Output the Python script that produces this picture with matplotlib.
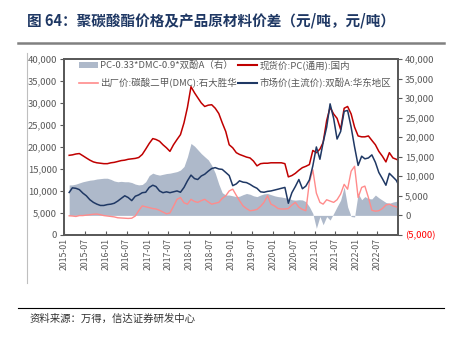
import matplotlib
matplotlib.use('Agg')
import matplotlib.pyplot as plt
import matplotlib.dates as mdates
from matplotlib.lines import Line2D
from matplotlib.patches import Patch
from matplotlib.ticker import FuncFormatter, MultipleLocator
import pandas as pd

plt.rcParams['font.family'] = ['Noto Sans CJK SC', 'DejaVu Sans']

dates = pd.date_range('2015-01-15', periods=96, freq='MS') + pd.Timedelta(days=14)

# 现货价:PC(通用):国内 (左轴)
pc = [18100, 18200, 18400, 18500, 18000, 17500, 17000, 16600, 16400, 16300, 16200, 16200,
      16400, 16500, 16700, 16900, 17000, 17200, 17300, 17400, 17600, 18300, 19500, 20800,
      21900, 21700, 21300, 20500, 19800, 19000, 20500, 21700, 22800, 25500, 29000, 33700,
      32300, 31200, 30000, 29200, 29500, 29600, 28800, 27600, 25500, 23500, 20500, 19800,
      18700, 18300, 18000, 17700, 17500, 16800, 15700, 16200, 16300, 16300, 16400, 16400,
      16400, 16400, 16200, 13200, 13500, 14000, 14700, 15300, 15600, 16000, 19200, 18700,
      19500, 21000, 26000, 29000, 27500, 26500, 24000, 28800, 29200, 27500, 24500, 22500,
      22300, 22300, 22500, 21500, 20500, 19000, 17900, 16600, 18700, 17500, 17200, 16800]

# 市场价(主流价):双酚A:华东地区 (左轴)
bpa = [9650, 10700, 10600, 10300, 9500, 8900, 8000, 7400, 7000, 6700, 6700, 6900,
       7000, 7200, 7700, 8300, 8900, 8500, 7800, 8800, 9100, 9600, 9700, 10800,
       11300, 11000, 10000, 9600, 9800, 9600, 9800, 10000, 9700, 10800, 12300, 13600,
       12800, 12600, 13400, 13800, 14500, 15100, 15300, 15000, 14900, 14200, 13500, 11200,
       11600, 12300, 12000, 11900, 11500, 11000, 10600, 9800, 9700, 9900, 10000, 10200,
       10400, 10600, 10800, 7200, 9600, 11000, 12600, 10500, 11100, 12500, 15700, 20000,
       17200, 21000, 24500, 29800, 26500, 21800, 23500, 28100, 28300, 24500, 20000, 15800,
       17900, 17300, 17500, 18200, 16500, 14200, 12800, 11300, 14000, 13200, 12400, 10800]

# 出厂价:碳酸二甲酯(DMC):石大胜华 (左轴)
dmc = [4350, 4300, 4200, 4400, 4400, 4500, 4600, 4700, 4750, 4600, 4400, 4300,
       4200, 4100, 3900, 3850, 3800, 3750, 3800, 4300, 5500, 6600, 6400, 6200,
       6000, 5900, 5600, 5200, 4800, 5000, 6500, 8100, 8500, 7300, 7000, 8100,
       7600, 7400, 7800, 8100, 7500, 7000, 7200, 7400, 8300, 8900, 10000, 10400,
       9000, 7800, 6600, 6000, 5500, 5600, 5800, 6500, 7400, 8900, 7000, 6600,
       6000, 5900, 5900, 6000, 6800, 7400, 6300, 5800, 5500, 12000, 14800, 9500,
       7400, 7000, 8000, 7700, 7400, 8000, 9300, 11500, 10400, 14500, 15600, 8500,
       10800, 11100, 8500, 5600, 5400, 5500, 6000, 6800, 7000, 6600, 6400, 5900]

# PC-0.33*DMC-0.9*双酚A (右轴)
spread = [7780, 7800, 8000, 8300, 8600, 8800, 9000, 9100, 9300, 9400, 9500, 9500,
          9200, 8800, 8600, 8700, 8600, 8600, 8400, 8000, 7800, 7900, 8600, 10200,
          10800, 10500, 10300, 10500, 10700, 10800, 11000, 11200, 11600, 12500, 15000, 18400,
          17700, 16800, 15800, 15000, 14200, 12800, 10800, 8000, 5800, 5200, 5200, 5000,
          4800, 4900, 5300, 5600, 5400, 5000, 4800, 5200, 5500, 5600, 5300, 5000,
          4800, 4700, 4500, 4400, 4000, 3900, 4000, 3950, 3500, 2200, 500, -3300,
          -300, -2400, -300, -1200, 500, 2200, 3900, 7300, 2200, -300, -400, 5600,
          4000, 4800, 4300, 4200, 5200, 4500, 3900, 3300, 3100, 3400, 3600, 4400]

labels = ['PC-0.33*DMC-0.9*双酚A（右）', '出厂价:碳酸二甲(DMC):石大胜华',
          '现货价:PC(通用):国内', '市场价(主流价):双酚A:华东地区']

c_red = '#c00000'
c_pink = '#ff8b8b'
c_blue = '#1f3864'
c_fill = '#aeb9ca'
c_txt = '#595959'

fig = plt.figure(figsize=(4.54, 3.39), dpi=100)
ax = fig.add_axes([0.141, 0.307, 0.736, 0.519])
ax2 = ax.twinx()

ax2.fill_between(dates, spread, 0, color=c_fill, lw=0)
ax.plot(dates, pc, color=c_red, lw=1.1)
ax.plot(dates, dmc, color=c_pink, lw=1.0)
ax.plot(dates, bpa, color=c_blue, lw=1.1)

ax.set_zorder(ax2.get_zorder() + 1)
ax.patch.set_visible(False)

ax.set_ylim(0, 40000)
ax2.set_ylim(-5000, 40000)
ax.yaxis.set_major_locator(MultipleLocator(5000))
ax2.yaxis.set_major_locator(MultipleLocator(5000))
ax.yaxis.set_major_formatter(FuncFormatter(lambda v, p: f'{v:,.0f}'))
ax2.yaxis.set_major_formatter(FuncFormatter(lambda v, p: f'({-v:,.0f})' if v < 0 else f'{v:,.0f}'))

ax.set_xlim(pd.Timestamp('2015-01-01'), pd.Timestamp('2022-12-31'))
ax.xaxis.set_major_locator(mdates.MonthLocator(bymonth=[1, 7]))
ax.xaxis.set_major_formatter(mdates.DateFormatter('%Y-%m'))

for a in (ax, ax2):
    for s in a.spines.values():
        s.set_color('#595959')
        s.set_linewidth(1.3)
ax.tick_params(axis='x', direction='in', length=3, color='#595959', labelsize=6.3,
               labelcolor=c_txt, labelrotation=90, pad=2)
ax.tick_params(axis='y', direction='out', length=3, color='#595959', labelsize=6.8,
               labelcolor=c_txt, pad=2)
ax2.tick_params(axis='y', direction='out', length=3, color='#595959', labelsize=6.8,
                labelcolor=c_txt, pad=2)
fig.canvas.draw()
for t in ax2.get_yticklabels():
    if t.get_text().startswith('('):
        t.set_color('#ff0000')

handles = [Patch(color=c_fill, lw=0), Line2D([], [], color=c_pink, lw=1.2),
           Line2D([], [], color=c_red, lw=1.5), Line2D([], [], color=c_blue, lw=1.5)]
leg = ax.legend(handles, labels, ncol=2, loc='upper left', bbox_to_anchor=(0.025, 1.03),
                frameon=False, fontsize=6.8, handlelength=2.0, handleheight=0.6,
                columnspacing=0.2, handletextpad=0.2, labelspacing=0.85, borderaxespad=0.3)
for t in leg.get_texts():
    t.set_color(c_txt)

fig.text(0.06, 0.94, '图 64：聚碳酸酯价格及产品原材料价差（元/吨，元/吨）', fontsize=10.5,
         fontweight='bold', color='#1f3864', va='center', ha='left')
fig.add_artist(Line2D([0.04, 0.978], [0.873, 0.873], color='#808080', lw=1.8))
fig.add_artist(Line2D([0.059, 0.059], [0.165, 0.845], color='#bfbfbf', lw=0.8))
fig.add_artist(Line2D([0.04, 0.978], [0.092, 0.092], color='black', lw=0.8))
fig.text(0.065, 0.06, '资料来源：万得，信达证券研发中心', fontsize=7.5, style='italic',
         color='#333333', va='center', ha='left')

fig.savefig('out.png', dpi=100)
